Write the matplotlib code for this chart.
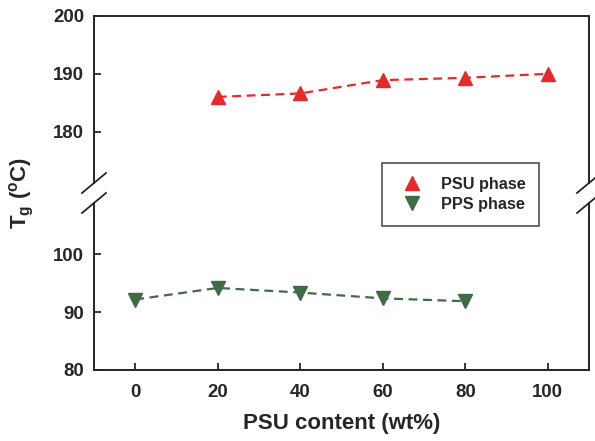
import numpy as np
import matplotlib
matplotlib.use("Agg")
import matplotlib.pyplot as plt
from matplotlib.lines import Line2D

# glass transition temperatures
psu_content = [20, 40, 60, 80, 100]
psu_tg = [186.0, 186.6, 188.9, 189.3, 190.0]
pps_content = [0, 20, 40, 60, 80]
pps_tg = [92.2, 94.2, 93.4, 92.4, 91.9]

xticks = [0, 20, 40, 60, 80, 100]
upper_ticks = [180, 190, 200]
lower_ticks = [80, 90, 100]

plt.rcParams['font.family'] = ['Liberation Sans', 'DejaVu Sans']
plt.rcParams['font.weight'] = 'bold'
plt.rcParams['axes.labelweight'] = 'bold'
plt.rcParams['mathtext.default'] = 'regular'

red = '#e42a2a'
green = '#3f6b47'
ink = '#262626'

fig = plt.figure(figsize=(5.95, 4.41), dpi=100)
L, W = 94 / 595, 495 / 595
H = 167 / 441
ax_top = fig.add_axes([L, 1 - 183 / 441, W, H])
ax_bot = fig.add_axes([L, 1 - 370 / 441, W, H])

for ax in (ax_top, ax_bot):
    ax.plot(psu_content, psu_tg, ls='--', color=red, lw=1.6, dashes=(4, 2.5),
            marker='^', ms=10, mec=red, mfc=red)
    ax.plot(pps_content, pps_tg, ls='--', color=green, lw=1.6, dashes=(4, 2.5),
            marker='v', ms=10, mec=green, mfc=green)
    ax.set_xlim(-10, 110)
    for s in ax.spines.values():
        s.set_color(ink)
        s.set_linewidth(1.4)
    ax.tick_params(direction='in', length=5, width=1.3, color=ink,
                   labelsize=13.4, labelcolor=ink, pad=7)
    ax.tick_params(axis='y', right=False)

ax_top.set_ylim(171.1, 200)
ax_bot.set_ylim(80, 108.9)
ax_top.set_yticks(upper_ticks)
ax_bot.set_yticks(lower_ticks)
ax_bot.set_xticks(xticks)
ax_top.set_xticks([])
ax_top.spines['bottom'].set_visible(False)
ax_bot.spines['top'].set_visible(False)
ax_bot.tick_params(axis='x', pad=10)

# break marks
dx, dy = 12 / 495, 10 / 167
kw = dict(color=ink, lw=1.3, clip_on=False)
for xa in (0, 1):
    ax_top.plot([xa - dx, xa + dx], [-dy, dy], transform=ax_top.transAxes, **kw)
    ax_bot.plot([xa - dx, xa + dx], [1 - dy, 1 + dy], transform=ax_bot.transAxes, **kw)

ax_bot.set_xlabel('PSU content (wt%)', fontsize=16, color=ink, labelpad=9,
                  fontweight='bold')
fig.text(22 / 595, 1 - 193 / 441, r'T$_{g}$ ($^{o}$C)', rotation=90,
         fontsize=16, color=ink, ha='center', va='center', fontweight='bold')

handles = [Line2D([], [], ls='none', marker='^', ms=10, color=red),
           Line2D([], [], ls='none', marker='v', ms=10, color=green)]
labels = ['PSU phase', 'PPS phase']
leg = fig.legend(handles, labels, loc='upper left',
                 bbox_to_anchor=(382 / 595, 1 - 163 / 441), frameon=True,
                 fancybox=False, edgecolor=ink, fontsize=11.7, handlelength=2.0,
                 handletextpad=0.75, borderpad=0.85, labelspacing=0.3,
                 borderaxespad=0)
leg.get_frame().set_linewidth(1.2)
for t in leg.get_texts():
    t.set_color(ink)

fig.savefig('out.png', dpi=100)
